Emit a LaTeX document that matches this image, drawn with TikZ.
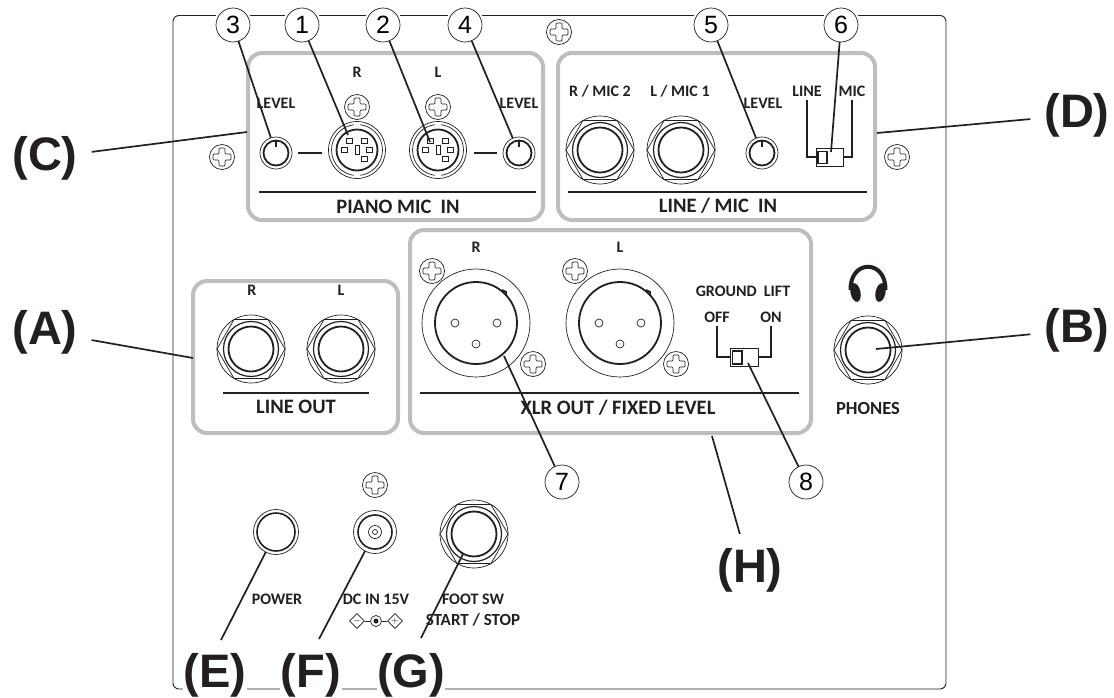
\documentclass[tikz,border=0pt]{standalone}
\usepackage{fontspec}
\setmainfont{Carlito}
\newfontfamily\helv{Liberation Sans}
\usepackage{xcolor}
\usetikzlibrary{shapes.geometric, positioning}
\definecolor{inkblack}{HTML}{231F20}
\definecolor{boxgray}{HTML}{BCBEC0}
\tikzset{
  hair/.style={draw=inkblack, line width=0.7pt},
  ring/.style={draw=inkblack, line width=1.8pt},
  groupbox/.style={draw=boxgray, line width=4pt, rounded corners=14pt},
  sepline/.style={draw=inkblack, line width=1.7pt},
  leader/.style={draw=inkblack, line width=1.7pt},
  port/.style={circle, draw=inkblack, line width=0.7pt, inner sep=0pt, outer sep=0pt},
  screwhead/.style={port, fill=white, minimum size=25pt},
  jackrim/.style={port, minimum size=68pt},
  knobrim/.style={port, minimum size=32pt},
  lbl/.style={font=\bfseries\fontsize{16}{18}\selectfont, text=inkblack, inner sep=0pt},
  lblbig/.style={font=\bfseries\fontsize{20.5}{22}\selectfont, text=inkblack, inner sep=0pt},
  numtag/.style={port, fill=white, preaction={draw=white, line width=5pt}, minimum size=34pt,
    font=\helv\fontsize{25}{26}\selectfont},
  lettertag/.style={font=\helv\bfseries\fontsize{47}{47}\selectfont, text=inkblack,
    inner sep=0pt, outer sep=14pt, anchor=base},
}
\begin{document}
\begin{tikzpicture}[x=1pt,y=-1pt]
  \useasboundingbox (0,0) rectangle (1114,697);
  % panel
  \draw[draw=inkblack, line width=0.9pt, rounded corners=6pt] (173,15.5) rectangle (946,689);
  % group boxes
  \draw[groupbox] (248,53) rectangle (543,220);
  \draw[groupbox] (558,53) rectangle (875,220);
  \draw[groupbox] (410,230) rectangle (811,433);
  \draw[groupbox] (193,281) rectangle (398,433);
  \draw[sepline] (259,192) -- (536,192);
  \draw[sepline] (568,192) -- (867,192);
  \draw[sepline] (420,393) -- (799,393);
  \draw[sepline] (223,393) -- (369,393);
  % big jacks
  \foreach \nm/\x/\y in {jackR/251/349,jackL/341/349,jackMicR/600/150,jackMicL/681/150,
      jackPhones/868/350,jackFoot/474/534} {
    \node[jackrim] (\nm) at (\x,\y) {};
    \draw[hair] (\x,\y) +(0:34) -- +(60:34) -- +(120:34) -- +(180:34) -- +(240:34) -- +(300:34) -- cycle;
    \draw[draw=inkblack, line width=1.2pt] (\x,\y) circle[radius=27.5];
    \draw[ring] (\x,\y) circle[radius=22.5];
  }
  % level knobs
  \foreach \nm/\x/\y in {knobA/276/153,knobB/519/153,knobC/762/153} {
    \node[knobrim] (\nm) at (\x,\y) {};
    \draw[ring] (\x,\y) circle[radius=12.5];
    \draw[draw=inkblack, line width=2.5pt] (\x,\y-12) -- (\x,\y-6);
  }
  \draw[sepline] (298,153) -- (322,153);
  \draw[sepline] (474,153) -- (497,153);
  % din sockets
  \foreach \nm/\x/\y in {dinR/357/150,dinL/438/150} {
    \node[port, minimum size=57pt] (\nm) at (\x,\y) {};
    \draw[hair] (\x,\y) circle[radius=25.5];
    \draw[draw=white, line width=2.5pt] (\x-3,\y-25.5) -- (\x+3,\y-25.5) (\x-3,\y+25.5) -- (\x+3,\y+25.5);
    \draw[ring] (\x,\y) circle[radius=20.5];
    \foreach \dx/\dy in {-7.5/-9,7.5/-9,-12.5/0,12.5/0,7.5/9}
      \draw[hair] (\x+\dx-2.8,\y+\dy-2.8) rectangle (\x+\dx+2.8,\y+\dy+2.8);
    \draw[hair] (\x-2,\y-4.5) rectangle (\x+2,\y+4.5);
  }
  % xlr sockets
  \foreach \nm/\x/\y in {xlrR/476/323,xlrL/620/323} {
    \node[port, minimum size=108pt] (\nm) at (\x,\y) {};
    \draw[ring] (\x,\y) circle[radius=41];
    \draw[ring] (\x+26,\y-33) -- (\x+30,\y-31) -- (\x+30,\y-27);
    \foreach \dx/\dy in {-21/0,21/0,0/21}
      \draw[hair] (\x+\dx,\y+\dy) circle[radius=4];
  }
  % screws
  \foreach \nm/\x/\y in {scrA/222/157,scrB/897/157,scrC/559/32,scrD/357/107,scrE/438/107,
      scrF/432/271,scrG/533/364,scrH/575/271,scrI/676/364,scrJ/375/485} {
    \node[screwhead] (\nm) at (\x,\y) {};
    \draw[hair, rounded corners=1pt] (\x,\y) ++(-3,-9) -- ++(6,0) -- ++(0,6) -- ++(6,0) -- ++(0,6)
      -- ++(-6,0) -- ++(0,6) -- ++(-6,0) -- ++(0,-6) -- ++(-6,0) -- ++(0,-6) -- ++(6,0) -- cycle;
  }
  % power and dc
  \node[port, minimum size=45pt] (sockPower) at (276,532) {};
  \draw[draw=inkblack, line width=1.6pt] (276,532) circle[radius=19];
  \node[port, minimum size=43pt] (sockDc) at (375,532) {};
  \draw[draw=inkblack, line width=1.6pt] (375,532) circle[radius=17];
  \draw[hair] (375,532) circle[radius=6.5];
  \draw[hair] (375,532) circle[radius=2.5];
  % switches
  \node[draw=inkblack, line width=0.7pt, fill=white, minimum width=27pt, minimum height=18pt, inner sep=0pt] (swMic) at (829.5,157) {};
  \draw[ring] (818,151.5) rectangle (827,163.5);
  \draw[hair, line width=1.2pt] (807,100) |- (swMic.west);
  \draw[hair, line width=1.2pt] (852,100) |- (swMic.east);
  \node[draw=inkblack, line width=0.7pt, fill=white, minimum width=28pt, minimum height=18pt, inner sep=0pt] (swGnd) at (744,357) {};
  \draw[ring] (732.5,351) rectangle (742,364);
  \draw[hair, line width=1.2pt] (717,326) |- (swGnd.west);
  \draw[hair, line width=1.2pt] (771,326) |- (swGnd.east);
  % headphones
  \draw[draw=inkblack, line width=4pt] (850.5,290) .. controls (850,259) and (886,259) .. (885.5,290);
  \fill[inkblack, rotate around={12:(855.5,292.5)}] (855.5,292.5) ellipse[x radius=5, y radius=9.5];
  \fill[inkblack, rotate around={-12:(880.5,292.5)}] (880.5,292.5) ellipse[x radius=5, y radius=9.5];
  % polarity mark
  \node[draw=inkblack, line width=0.7pt, circle, inner sep=0pt, minimum size=11pt] (polC) at (376,621) {};
  \fill[inkblack] (polC) circle[radius=2.5];
  \node[draw=inkblack, line width=0.7pt, diamond, shape aspect=1, inner sep=0pt, minimum size=15pt, font=\helv\fontsize{9}{9}\selectfont] (polM) at (357,621) {$-$};
  \node[draw=inkblack, line width=0.7pt, diamond, shape aspect=1, inner sep=0pt, minimum size=15pt, font=\helv\fontsize{9}{9}\selectfont] (polP) at (395,621) {$+$};
  \draw[hair] (polM) -- (polC);
  \draw[hair] (polC) -- (polP);
  % labels
  \node[lbl] (tR1) at (357,72) {R};
  \node[lbl] (tL1) at (438,72) {L};
  \node[lbl] (tLv1) at (276,103) {LEVEL};
  \node[lbl] (tLv2) at (519,103) {LEVEL};
  \node[lblbig] (tPiano) at (398,207) {PIANO MIC\ \ IN};
  \node[lbl] (tMic2) at (600,91) {R / MIC 2};
  \node[lbl] (tMic1) at (680,91) {L / MIC 1};
  \node[lbl] (tLv3) at (763,103) {LEVEL};
  \node[lbl] (tLine) at (807,91) {LINE};
  \node[lbl] (tMic) at (852,91) {MIC};
  \node[lblbig] (tLineMic) at (718,206) {LINE / MIC\ \ IN};
  \node[lbl] (tR2) at (476,247) {R};
  \node[lbl] (tL2) at (620,247) {L};
  \node[lbl] (tGnd) at (743,291) {GROUND\ \ LIFT};
  \node[lbl] (tOff) at (717,317) {OFF};
  \node[lbl] (tOn) at (771,317) {ON};
  \node[lblbig] (tXlr) at (618,408) {XLR OUT / FIXED LEVEL};
  \node[lbl] (tR3) at (252,290) {R};
  \node[lbl] (tL3) at (341,290) {L};
  \node[lblbig] (tLineOut) at (296,407) {LINE OUT};
  \node[lbl, font=\bfseries\fontsize{18.5}{20}\selectfont] (tPhones) at (868,408) {PHONES};
  \node[lbl] (tPower) at (277,599) {POWER};
  \node[lbl] (tDc) at (376,599) {DC IN 15V};
  \node[lbl] (tFoot) at (473,599) {FOOT SW};
  \node[lbl, font=\bfseries\fontsize{17}{19}\selectfont] (tStart) at (473,620) {START / STOP};
  % number tags
  \foreach \i/\x/\y in {3/233/25,1/302/25,2/383/25,4/465/25,5/711/25,6/841/25,7/562/482,8/806/482}
    \node[numtag] (num\i) at (\x,\y) {\i};
  % letter tags
  \node[lettertag] (capA) at (45,344) {(A)};
  \node[lettertag] (capB) at (1077,342) {(B)};
  \node[lettertag] (capC) at (45,170) {(C)};
  \node[lettertag] (capD) at (1077,127) {(D)};
  \node[lettertag, fill=white, minimum width=64pt] (capE) at (215,687) {(E)};
  \node[lettertag, fill=white, minimum width=62pt] (capF) at (311,687) {(F)};
  \node[lettertag, fill=white, minimum width=68pt] (capG) at (411,687) {(G)};
  \node[lettertag] (capH) at (750,582) {(H)};
  % leader ends
  \coordinate (endA) at (193,358);
  \coordinate (endB) at (876,349);
  \coordinate (endC) at (247,132);
  \coordinate (endD) at (877,133);
  \coordinate (endH) at (712,436);
  \coordinate (endG) at (463,554);
  \coordinate (tailE) at (221,640);
  \coordinate (tailF) at (319,639);
  \coordinate (tailG) at (421,638);
  \coordinate (pin1) at (348,135);
  \coordinate (pin2) at (430,142);
  \coordinate (end6) at (831,152);
  \coordinate (end7) at (504,356);
  \coordinate (end8) at (748,363);
  % leaders
  \draw[leader] (capA) -- (endA);
  \draw[leader] (capB) -- (endB);
  \draw[leader] (capC) -- (endC);
  \draw[leader] (capD) -- (endD);
  \draw[leader] (tailE) -- (sockPower);
  \draw[leader] (tailF) -- (sockDc);
  \draw[leader] (tailG) -- (endG);
  \draw[leader] (capH) -- (endH);
  \draw[leader] (num3) -- (knobA);
  \draw[leader] (num1) -- (pin1);
  \draw[leader] (num2) -- (pin2);
  \draw[leader] (num4) -- (knobB);
  \draw[leader] (num5) -- (knobC);
  \draw[leader] (num6) -- (end6);
  \draw[leader] (num7) -- (end7);
  \draw[leader] (num8) -- (end8);
\end{tikzpicture}
\end{document}
